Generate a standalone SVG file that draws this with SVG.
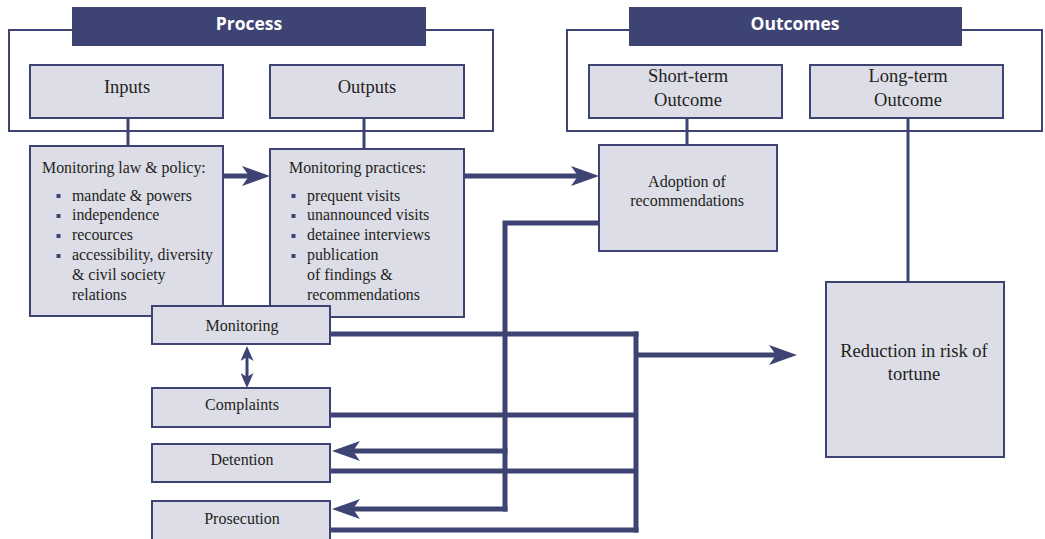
<svg xmlns="http://www.w3.org/2000/svg" width="1045" height="539" viewBox="0 0 1045 539">
<style>
.frame{fill:none;stroke:#3d4373;stroke-width:2}
.hdr{fill:#3d4373}
.hdrt{font-family:"Open Sans","Liberation Sans",sans-serif;font-weight:bold;font-size:17.5px;fill:#ffffff;text-anchor:middle}
.box{fill:#dcdde6;stroke:#3d4373;stroke-width:2}
.big{font-family:"Liberation Serif",serif;font-size:18.5px;fill:#231f20;text-anchor:middle}
.mid{font-family:"Liberation Serif",serif;font-size:16px;fill:#231f20;text-anchor:middle}
.sm{font-family:"Liberation Serif",serif;font-size:15.9px;fill:#231f20}
.bul{fill:#3d4373}
.thin{fill:none;stroke:#3d4373;stroke-width:3}
.thick{fill:none;stroke:#3d4373;stroke-width:5}
</style>
<defs>
<marker id="ah" viewBox="0 0 28 20" refX="7" refY="10" markerWidth="28" markerHeight="20" markerUnits="userSpaceOnUse" orient="auto">
<path d="M0,0 L28,10 L0,20 L7,10 z" fill="#3d4373"/>
</marker>
<marker id="ahs" viewBox="0 0 15 13" refX="4" refY="6.5" markerWidth="15" markerHeight="13" markerUnits="userSpaceOnUse" orient="auto-start-reverse">
<path d="M0,0 L15,6.5 L0,13 L4,6.5 z" fill="#3d4373"/>
</marker>
</defs>

<g id="process">
<rect class="frame" x="9" y="30" width="484" height="101"/>
<rect class="hdr" x="72" y="7" width="354" height="39"/>
<text class="hdrt" x="249" y="30">Process</text>
</g>
<g id="outcomes">
<rect class="frame" x="567" y="30" width="475" height="101"/>
<rect class="hdr" x="629" y="7" width="333" height="39"/>
<text class="hdrt" x="795" y="30">Outcomes</text>
</g>

<g id="connectors">
<line class="thin" x1="128" y1="118" x2="128" y2="147"/>
<line class="thin" x1="364" y1="118" x2="364" y2="149"/>
<line class="thin" x1="687" y1="118" x2="687" y2="145"/>
<line class="thin" x1="908" y1="118" x2="908" y2="283"/>
<line class="thick" x1="223" y1="176" x2="249" y2="176" marker-end="url(#ah)"/>
<line class="thick" x1="464" y1="176" x2="578" y2="176" marker-end="url(#ah)"/>
<polyline class="thick" points="599,223 505,223 505,511.5"/>
<line class="thick" x1="507.5" y1="451" x2="353" y2="451" marker-end="url(#ah)"/>
<line class="thick" x1="507.5" y1="509" x2="353" y2="509" marker-end="url(#ah)"/>
<line class="thick" x1="330" y1="334" x2="638.5" y2="334"/>
<line class="thick" x1="330" y1="415" x2="636" y2="415"/>
<line class="thick" x1="330" y1="471" x2="636" y2="471"/>
<line class="thick" x1="330" y1="530" x2="638.5" y2="530"/>
<line class="thick" x1="636" y1="331.5" x2="636" y2="532.5"/>
<line class="thick" x1="636" y1="355" x2="776" y2="355" marker-end="url(#ah)"/>
<line class="thin" x1="247" y1="357" x2="247" y2="377" marker-start="url(#ahs)" marker-end="url(#ahs)"/>
</g>

<g id="inputs">
<rect class="box" x="30" y="65" width="193" height="53"/>
<text class="big" x="127" y="93">Inputs</text>
</g>
<g id="outputs">
<rect class="box" x="270" y="65" width="194" height="53"/>
<text class="big" x="367" y="93">Outputs</text>
</g>
<g id="short-term">
<rect class="box" x="589" y="65" width="193" height="53"/>
<text class="big" x="688" y="82">Short-term</text>
<text class="big" x="688" y="106">Outcome</text>
</g>
<g id="long-term">
<rect class="box" x="810" y="65" width="193" height="53"/>
<text class="big" x="908" y="82">Long-term</text>
<text class="big" x="908" y="106">Outcome</text>
</g>

<g id="law-policy">
<rect class="box" x="30" y="146" width="193" height="170"/>
<text class="sm" x="42" y="173">Monitoring law &amp; policy:</text>
<rect class="bul" x="56.5" y="194" width="4" height="4"/>
<rect class="bul" x="56.5" y="214" width="4" height="4"/>
<rect class="bul" x="56.5" y="234" width="4" height="4"/>
<rect class="bul" x="56.5" y="254" width="4" height="4"/>
<text class="sm" x="72" y="201">mandate &amp; powers</text>
<text class="sm" x="72" y="220">independence</text>
<text class="sm" x="72" y="240">recources</text>
<text class="sm" x="72" y="260">accessibility, diversity</text>
<text class="sm" x="72" y="280">&amp; civil society</text>
<text class="sm" x="72" y="300">relations</text>
</g>
<g id="practices">
<rect class="box" x="270" y="149" width="194" height="168"/>
<text class="sm" x="289" y="173">Monitoring practices:</text>
<rect class="bul" x="291.5" y="194" width="4" height="4"/>
<rect class="bul" x="291.5" y="214" width="4" height="4"/>
<rect class="bul" x="291.5" y="234" width="4" height="4"/>
<rect class="bul" x="291.5" y="254" width="4" height="4"/>
<text class="sm" x="307" y="201">prequent visits</text>
<text class="sm" x="307" y="220">unannounced visits</text>
<text class="sm" x="307" y="240">detainee interviews</text>
<text class="sm" x="307" y="260">publication</text>
<text class="sm" x="307" y="280">of findings &amp;</text>
<text class="sm" x="307" y="300">recommendations</text>
</g>
<g id="adoption">
<rect class="box" x="599" y="145" width="178" height="106"/>
<text class="mid" x="687" y="187">Adoption of</text>
<text class="mid" x="687" y="206">recommendations</text>
</g>
<g id="reduction">
<rect class="box" x="826" y="282" width="178" height="175"/>
<text class="big" x="914" y="357">Reduction in risk of</text>
<text class="big" x="914" y="380">tortune</text>
</g>
<g id="monitoring">
<rect class="box" x="152" y="306" width="178" height="38"/>
<text class="mid" x="242" y="331">Monitoring</text>
</g>
<g id="complaints">
<rect class="box" x="152" y="388" width="178" height="39"/>
<text class="mid" x="242" y="410">Complaints</text>
</g>
<g id="detention">
<rect class="box" x="152" y="444" width="178" height="38"/>
<text class="mid" x="242" y="465">Detention</text>
</g>
<g id="prosecution">
<rect class="box" x="152" y="501" width="178" height="42"/>
<text class="mid" x="242" y="524">Prosecution</text>
</g>
</svg>
